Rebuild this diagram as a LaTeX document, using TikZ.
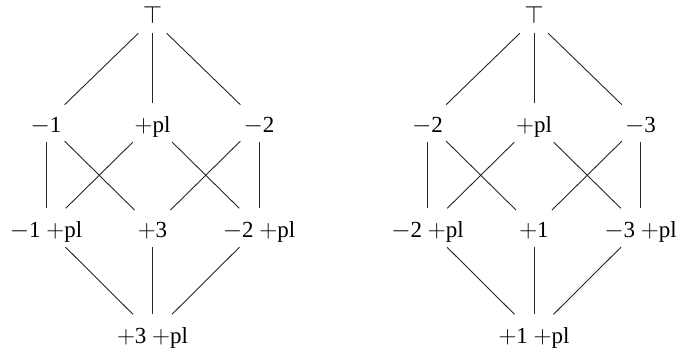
\documentclass[tikz,border=0pt]{standalone}
\usepackage{fontspec}
\setmainfont{Liberation Serif}
\begin{document}
\begin{tikzpicture}[x=1pt,y=-1pt,
  lat/.style={anchor=base, inner xsep=3pt, inner ysep=6pt, text height=22.5pt, text depth=4pt, font=\fontsize{23}{27}\selectfont},
  topnode/.style={lat, minimum width=40pt, text height=11pt},
  edge/.style={line width=0.9pt, draw=black!85}]
\useasboundingbox (0,0) rectangle (676,351);
% left lattice
\node[topnode] (lt) at (152.5,23) {$\top$};
\node[lat] (lm1) at (46,132) {$-$1};
\node[lat] (lpl) at (152.5,132) {$+$pl};
\node[lat] (lm2) at (259,132) {$-$2};
\node[lat] (lm1pl) at (46,237) {$-$1 $+$pl};
\node[lat] (lp3) at (152.5,237) {$+$3};
\node[lat] (lm2pl) at (259,237) {$-$2 $+$pl};
\node[lat] (lbot) at (152.5,343) {$+$3 $+$pl};
\draw[edge] (lt) -- (lm1);
\draw[edge] (lt) -- (lpl);
\draw[edge] (lt) -- (lm2);
\draw[edge] (lm1) -- (lm1pl);
\draw[edge] (lm1) -- (lp3);
\draw[edge] (lpl) -- (lm1pl);
\draw[edge] (lpl) -- (lm2pl);
\draw[edge] (lm2) -- (lp3);
\draw[edge] (lm2) -- (lm2pl);
\draw[edge] (lm1pl) -- (lbot);
\draw[edge] (lp3) -- (lbot);
\draw[edge] (lm2pl) -- (lbot);
% right lattice
\node[topnode] (rt) at (534,23) {$\top$};
\node[lat] (rm2) at (427.5,132) {$-$2};
\node[lat] (rpl) at (534,132) {$+$pl};
\node[lat] (rm3) at (640.5,132) {$-$3};
\node[lat] (rm2pl) at (427.5,237) {$-$2 $+$pl};
\node[lat] (rp1) at (534,237) {$+$1};
\node[lat] (rm3pl) at (640.5,237) {$-$3 $+$pl};
\node[lat] (rbot) at (534,343) {$+$1 $+$pl};
\draw[edge] (rt) -- (rm2);
\draw[edge] (rt) -- (rpl);
\draw[edge] (rt) -- (rm3);
\draw[edge] (rm2) -- (rm2pl);
\draw[edge] (rm2) -- (rp1);
\draw[edge] (rpl) -- (rm2pl);
\draw[edge] (rpl) -- (rm3pl);
\draw[edge] (rm3) -- (rp1);
\draw[edge] (rm3) -- (rm3pl);
\draw[edge] (rm2pl) -- (rbot);
\draw[edge] (rp1) -- (rbot);
\draw[edge] (rm3pl) -- (rbot);
\end{tikzpicture}
\end{document}
